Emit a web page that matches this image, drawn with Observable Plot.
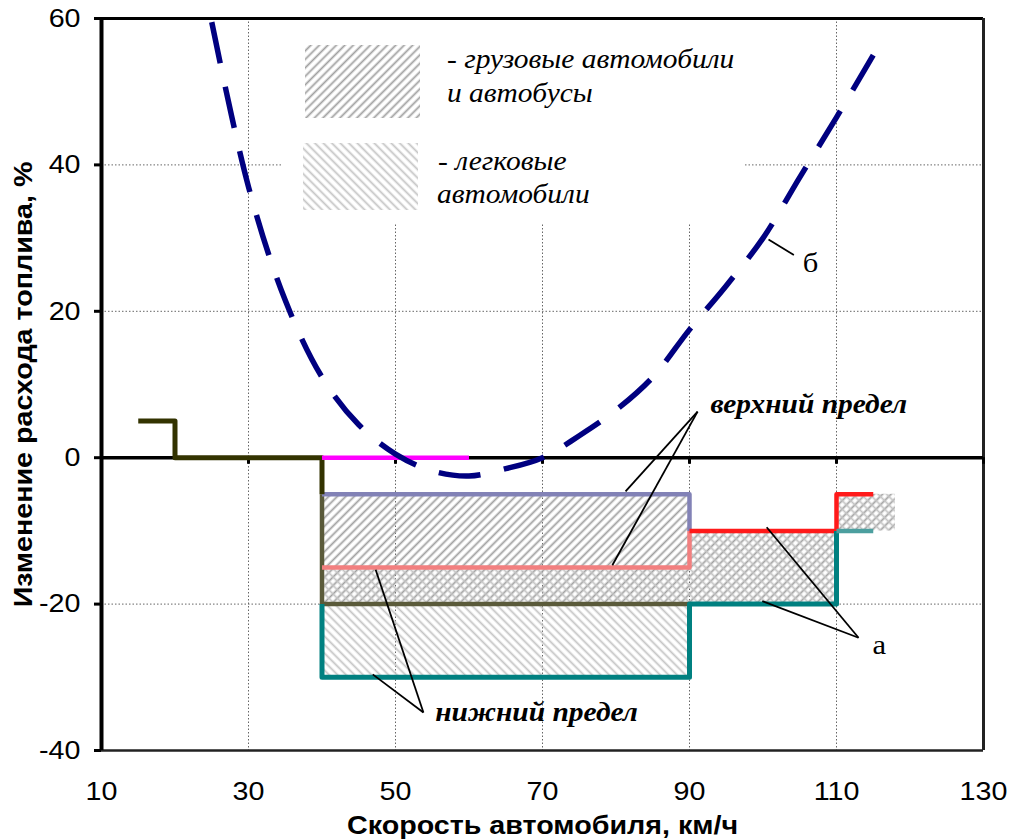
<!DOCTYPE html>
<html><head><meta charset="utf-8">
<script src="https://cdn.jsdelivr.net/npm/d3@7"></script>
<script src="https://cdn.jsdelivr.net/npm/@observablehq/plot@0.6"></script>
<style>
body{margin:0;background:#fff;}
#wrap{position:relative;width:1011px;height:839px;}
#wrap > svg{position:absolute;left:0;top:0;}
#legend{position:absolute;left:283px;top:20px;width:462px;height:204px;background:#fff;}
</style></head><body>
<svg width="0" height="0" style="position:absolute">
<defs>
<pattern id="hatchTruck" patternUnits="userSpaceOnUse" width="6" height="6" patternTransform="rotate(45)">
<line x1="1.5" y1="0" x2="1.5" y2="6" stroke="#a0a0a0" stroke-width="1.8"/>
</pattern>
<pattern id="hatchCar" patternUnits="userSpaceOnUse" width="6" height="6" patternTransform="rotate(-45)">
<line x1="1.5" y1="0" x2="1.5" y2="6" stroke="#c4c4c4" stroke-width="1.8"/>
</pattern>
</defs></svg>
<div id="wrap"></div>
<script>
// ---- data ----
const xTicks = [10, 30, 50, 70, 90, 110, 130];
const yTicks = [-40, -20, 0, 20, 40, 60];
const xGrid = [30, 50, 70, 90, 110];
const yGrid = [-20, 20, 40];

// dashed curve "б"
const curveX = [25, 30, 35, 40, 45, 50, 55, 60, 65, 70, 75, 80, 85, 90, 95, 100, 105, 110, 115];
const curveY = [59.5, 37, 21.5, 11, 4.5, 0.5, -1.8, -2.5, -1.5, 0, 3, 6.5, 11, 17.5, 23.5, 30, 38.3, 46.5, 55];

// olive step line
const oliveX = [15, 20, 20, 40, 40];
const oliveY = [5, 5, 0, 0, -5];
const oliveFadedX = [40, 40, 90];
const oliveFadedY = [-5, -20, -20];
// magenta segment
const magentaX = [40, 60];
const magentaY = [0, 0];
// blue (trucks upper limit)
const blueX = [40, 90, 90];
const blueY = [-5, -5, -10];
// red (upper limit)
const redFadedX = [40, 90, 90];
const redFadedY = [-15, -15, -10];
const redX = [90, 110, 110, 115];
const redY = [-10, -10, -5, -5];
// teal (lower limit)
const tealX = [40, 40, 90, 90, 110, 110];
const tealY = [-20, -30, -30, -20, -20, -10];
const tealFadedX = [110, 115];
const tealFadedY = [-10, -10];

// hatched zones
const zoneX1 = [40, 90, 110];
const zoneX2 = [90, 110, 118];
const truckLow = [-20, -20, -10];
const truckHigh = [-5, -10, -5];
const carLow = [-30, -20, -10];
const carHigh = [-15, -10, -5];

// annotation leaders and labels
const upperLabel = {x: 92.85, y: 7.2, text: "верхний предел"};
const upperLeaders = [[91.1, 6.3, 81.3, -4.6], [91.1, 6.3, 79.5, -14.7]];
const lowerLabel = {x: 55.4, y: -34.8, text: "нижний предел"};
const lowerLeaders = [[53.8, -34.8, 46.9, -29.6], [53.8, -34.8, 47.3, -15.3]];
const aLabel = {x: 114.9, y: -25.6, text: "а"};
const aLeaders = [[113, -24.6, 100.5, -9.5], [113, -24.6, 99.9, -19.6]];
const bLabel = {x: 105.4, y: 26.5, text: "б"};
const bLeaders = [[100.75, 29.8, 104.2, 27.7]];

const legendItems = ["- грузовые автомобили", "и автобусы", "- легковые", "автомобили"];

// ---- build ----
const pts = (xs, ys) => xs.map((x, i) => ({x, y: ys[i]}));
const links = arr => arr.map(([x1, y1, x2, y2]) => ({x1, y1, x2, y2}));
const zones = (lo, hi) => zoneX1.map((x1, i) => ({x1, x2: zoneX2[i], y1: lo[i], y2: hi[i]}));

const serif = "Liberation Serif, Times New Roman, serif";
const sans = "Liberation Sans, Arial, sans-serif";
const SANS = 25.6, SERIF = 26.3, STRETCH = 1.12;

const lineOpts = (stroke, w) => ({x: "x", y: "y", stroke, strokeWidth: w, strokeLinejoin: "round", strokeLinecap: "butt"});

const chart = Plot.plot({
  width: 1011,
  height: 839,
  marginLeft: 101,
  marginRight: 28,
  marginTop: 18,
  marginBottom: 89,
  x: {domain: [10, 130]},
  y: {domain: [-40, 60]},
  style: {fontFamily: sans, fontSize: SANS + "px", color: "#000", background: "#fff"},
  marks: [
    Plot.gridX(xGrid, {stroke: "#666", strokeOpacity: 1, strokeWidth: 1, strokeDasharray: "1.5,2"}),
    Plot.gridY(yGrid, {stroke: "#666", strokeOpacity: 1, strokeWidth: 1, strokeDasharray: "1.5,2"}),
    // hatched zones
    Plot.rect(zones(truckLow, truckHigh), {x1: "x1", x2: "x2", y1: "y1", y2: "y2", fill: "url(#hatchTruck)"}),
    Plot.rect(zones(carLow, carHigh), {x1: "x1", x2: "x2", y1: "y1", y2: "y2", fill: "url(#hatchCar)"}),
    // limit lines
    Plot.line(pts(oliveFadedX, oliveFadedY), lineOpts("#5a5a3a", 4.5)),
    Plot.line(pts(blueX, blueY), lineOpts("#8282b6", 4.5)),
    Plot.line(pts(redFadedX, redFadedY), lineOpts("#f27f7f", 4.5)),
    Plot.line(pts(redX, redY), lineOpts("#ff1a1a", 4.5)),
    Plot.line(pts(tealX, tealY), lineOpts("#008080", 5)),
    Plot.line(pts(tealFadedX, tealFadedY), lineOpts("#4c9f9f", 4.5)),
    // frame & axes lines
    Plot.ruleY([60], {strokeWidth: 3}),
    Plot.ruleY([-40], {strokeWidth: 2.5, stroke: "#222"}),
    Plot.ruleX([130], {strokeWidth: 3, stroke: "#222"}),
    Plot.ruleY([0], {strokeWidth: 3.5}),
    Plot.ruleX(xTicks, {y1: 0, y2: -0.9, strokeWidth: 3}),
    Plot.ruleX([10], {strokeWidth: 4}),
    // solid lines above
    Plot.line(pts(oliveX, oliveY), lineOpts("#333300", 5)),
    Plot.line(pts(magentaX, magentaY), lineOpts("#ff00ff", 4.5)),
    // dashed curve
    Plot.line(pts(curveX, curveY), {x: "x", y: "y", stroke: "#000080", strokeWidth: 5.5, strokeDasharray: "42,24", curve: "catmull-rom", strokeLinecap: "butt"}),
    // leaders
    Plot.link(links([...upperLeaders, ...lowerLeaders, ...aLeaders, ...bLeaders]), {x1: "x1", y1: "y1", x2: "x2", y2: "y2", stroke: "#000", strokeWidth: 1.8}),
    // annotation labels
    Plot.text([upperLabel, lowerLabel], {x: "x", y: "y", text: "text", textAnchor: "start", lineAnchor: "middle", fontFamily: serif, fontWeight: "bold", fontStyle: "italic", fontSize: SERIF, fill: "#000"}),
    Plot.text([aLabel, bLabel], {x: "x", y: "y", text: "text", textAnchor: "start", lineAnchor: "middle", fontFamily: serif, fontSize: SERIF + 1, fill: "#000"}),
    // axes
    Plot.axisY({ticks: yTicks, tickSize: 7, tickPadding: 14, strokeWidth: 3, tickFormat: d => String(d), label: null, fontSize: SANS}),
    Plot.axisX({ticks: xTicks, tickSize: 0, tickPadding: 31, tickFormat: d => String(d), label: null, fontSize: SANS}),
    // axis titles
    Plot.text(["Изменение расхода топлива, %"], {frameAnchor: "left", rotate: -90, dx: -78, textAnchor: "middle", lineAnchor: "middle", fontWeight: "bold", fontSize: SANS, fill: "#000"}),
    Plot.text(["Скорость автомобиля, км/ч"], {frameAnchor: "bottom", dy: 75, textAnchor: "middle", lineAnchor: "middle", fontWeight: "bold", fontSize: SANS, fill: "#000"})
  ]
});

const wrap = document.getElementById("wrap");
wrap.appendChild(chart);

// legend overlay (white box covering grid, like the original)
const legend = document.createElement("div");
legend.id = "legend";
const lsvg = d3.create("svg").attr("width", 462).attr("height", 204);
lsvg.append("rect").attr("x", 22).attr("y", 25).attr("width", 115).attr("height", 73).attr("fill", "url(#hatchTruck)");
lsvg.append("rect").attr("x", 20).attr("y", 123).attr("width", 115).attr("height", 67).attr("fill", "url(#hatchCar)");
const lpos = [[164, 48], [164, 82], [155, 150], [154, 183]];
legendItems.forEach((t, i) => {
  lsvg.append("text").attr("x", lpos[i][0]).attr("y", lpos[i][1])
    .attr("font-family", serif).attr("font-style", "italic").attr("font-size", SERIF)
    .attr("fill", "#000").text(t);
});
legend.appendChild(lsvg.node());
wrap.appendChild(legend);

// the original's text runs wider than these fonts: stretch glyphs along the text
function stretch(root) {
  root.querySelectorAll("text").forEach(t => {
    const len = t.getComputedTextLength();
    if (len > 0) {
      t.setAttribute("textLength", (len * STRETCH).toFixed(2));
      t.setAttribute("lengthAdjust", "spacingAndGlyphs");
    }
  });
}
stretch(chart);
stretch(lsvg.node());
</script>
</body></html>
